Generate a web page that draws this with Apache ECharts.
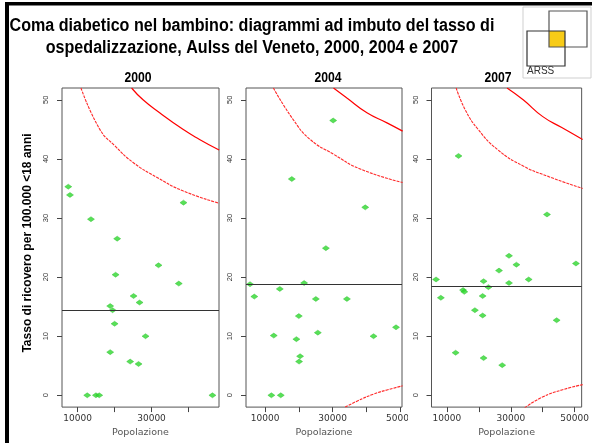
<!DOCTYPE html>
<html>
<head>
<meta charset="utf-8">
<script src="https://cdn.jsdelivr.net/npm/echarts@6/dist/echarts.min.js"></script>
<style>
html,body{margin:0;padding:0;background:#fff;}
#chart{width:592px;height:443px;}
</style>
</head>
<body>
<div id="chart"></div>
<script>
// ---- text ----
const titleLines = [
  'Coma diabetico nel bambino: diagrammi ad imbuto del tasso di',
  'ospedalizzazione, Aulss del Veneto, 2000, 2004 e 2007'
];
const panelTitles = ['2000', '2004', '2007'];
const yTitle = 'Tasso di ricovero per 100.000 <18 anni';
const xName = 'Popolazione';
const logoText = 'ARSS';

// ---- data: population (x) and rate per 100.000 (y) of each Aulss ----
const pop2000 = [7460, 7920, 13600, 20700, 38650, 31890, 20270, 37380, 25140, 26760, 18810, 19460, 20000, 28380, 18810, 24220, 26490, 12590, 14950, 15840, 46490];
const rate2000 = [35.3, 33.9, 29.8, 26.5, 32.6, 22.0, 20.4, 18.9, 16.8, 15.7, 15.1, 14.4, 12.1, 10.0, 7.3, 5.7, 5.3, 0, 0, 0, 0];

const pop2004 = [30150, 17910, 39630, 27990, 5560, 21560, 6830, 14360, 25020, 34210, 19990, 48730, 12580, 25610, 19270, 42090, 20370, 20070, 11870, 14650];
const rate2004 = [46.5, 36.6, 31.8, 24.9, 18.8, 19.0, 16.7, 18.0, 16.3, 16.3, 13.4, 11.5, 10.1, 10.6, 9.5, 10.0, 6.6, 5.7, 0, 0];

const pop2007 = [13630, 41330, 29430, 31750, 50390, 26310, 6590, 35590, 21480, 29430, 22990, 15050, 15440, 8100, 21180, 18760, 21180, 44350, 12720, 21480, 27310];
const rate2007 = [40.5, 30.6, 23.6, 22.1, 22.3, 21.1, 19.6, 19.6, 19.3, 19.0, 18.3, 17.8, 17.5, 16.5, 16.8, 14.4, 13.5, 12.7, 7.2, 6.3, 5.1];

// regional mean rate (horizontal line)
const meanRate = [14.4, 18.8, 18.45];

// funnel limits: [population, rate]
const inner2000 = [[10900, 52], [16000, 45.0], [20100, 42.2], [25000, 39.4], [31400, 36.9], [38500, 34.6], [48300, 32.5]];
const outer2000 = [[24600, 52], [27700, 50], [32200, 47.8], [38500, 45], [43000, 43.3], [48300, 41.5]];
const lower2000 = [];

const inner2004 = [[12460, 52], [18390, 46.6], [23330, 43.3], [30240, 40.8], [38150, 38.3], [50680, 36.0]];
const outer2004 = [[30240, 52], [34210, 50.3], [40130, 47.8], [46060, 46.1], [50680, 44.7]];
const lower2004 = [[33700, -2], [37170, -1], [42100, 0.2], [46060, 0.9], [50680, 1.6]];

const inner2007 = [[12900, 52], [15740, 48.3], [19760, 45.0], [25800, 41.6], [33870, 38.8], [41900, 37.0], [52480, 35.0]];
const outer2007 = [[28820, 52], [33870, 50], [39910, 47.2], [45950, 45.3], [52480, 43.3]];
const lower2007 = [[34350, -2.1], [39910, -0.3], [45950, 0.9], [52480, 1.8]];

// ---- axes ----
const xMin = [5760, 4370, 5170];
const xMax = [48270, 50500, 52180];
const yMin = -2, yMax = 52;
const yTicks = [0, 10, 20, 30, 40, 50];
const xTicks = [
  [10000, 20000, 30000, 40000],
  [10000, 20000, 30000, 40000, 50000],
  [10000, 20000, 30000, 40000, 50000]
];
const xTickLabels = [
  [10000, 30000],
  [10000, 30000, 50000],
  [10000, 30000, 50000]
];

const pops = [pop2000, pop2004, pop2007];
const rates = [rate2000, rate2004, rate2007];
const inners = [inner2000, inner2004, inner2007];
const outers = [outer2000, outer2004, outer2007];
const lowers = [lower2000, lower2004, lower2007];

// ---- layout ----
const grids = [
  {left: 62, top: 88, width: 157, height: 322},
  {left: 246, top: 88, width: 156, height: 322},
  {left: 431.5, top: 88, width: 156, height: 322}
];
const panelTitleX = [138, 328, 498];

const chart = echarts.init(document.getElementById('chart'), null, {renderer: 'canvas'});

const gridOpts = grids.map(g => Object.assign({
  show: true, borderColor: '#555', borderWidth: 1, backgroundColor: '#fff', containLabel: false
}, g));

const plain = v => String(Math.round(v));

const xAxes = [0, 1, 2].map(i => ({
  gridIndex: i, type: 'value', min: xMin[i], max: xMax[i],
  axisLine: {show: false, onZero: false},
  axisTick: {show: true, inside: false, length: 5, customValues: xTicks[i], lineStyle: {color: '#444', width: 1}},
  axisLabel: {customValues: xTickLabels[i], formatter: plain, fontFamily: 'DejaVu Sans', fontSize: 9, color: '#333', margin: 7, hideOverlap: false},
  splitLine: {show: false},
  name: xName, nameLocation: 'middle', nameGap: 19,
  nameTextStyle: {fontFamily: 'DejaVu Sans', fontSize: 9.5, color: '#555'}
}));

const yAxes = [0, 1, 2].map(i => ({
  gridIndex: i, type: 'value', min: yMin, max: yMax,
  axisLine: {show: false, onZero: false},
  axisTick: {show: true, inside: false, length: 5, customValues: yTicks, lineStyle: {color: '#444', width: 1}},
  axisLabel: {customValues: yTicks, formatter: plain, rotate: 90, fontFamily: 'Liberation Sans', fontSize: 7.5, color: '#333', margin: 12, hideOverlap: false},
  splitLine: {show: false}
}));

const series = [];
[0, 1, 2].forEach(i => {
  series.push({
    type: 'line', xAxisIndex: i, yAxisIndex: i, data: outers[i], smooth: true, showSymbol: false, symbol: 'none',
    clip: true, lineStyle: {color: '#ff0000', width: 1.2, type: 'solid'}, z: 2
  });
  series.push({
    type: 'line', xAxisIndex: i, yAxisIndex: i, data: inners[i], smooth: true, showSymbol: false, symbol: 'none',
    clip: true, lineStyle: {color: '#ff2a2a', width: 1.1, type: [3, 1]}, z: 2
  });
  if (lowers[i].length) {
    series.push({
      type: 'line', xAxisIndex: i, yAxisIndex: i, data: lowers[i], smooth: true, showSymbol: false, symbol: 'none',
      clip: true, lineStyle: {color: '#ff2a2a', width: 1.1, type: [3, 1]}, z: 2
    });
  }
  series.push({
    type: 'scatter', xAxisIndex: i, yAxisIndex: i,
    data: pops[i].map((p, k) => [p, rates[i][k]]),
    symbol: 'diamond', symbolSize: [7, 5],
    itemStyle: {color: '#2ed82e', borderColor: '#1fb81f', borderWidth: 0.5},
    z: 4,
    markLine: {
      silent: true, symbol: 'none', animation: false,
      label: {show: false},
      lineStyle: {color: '#333', width: 1, type: 'solid'},
      data: [{yAxis: meanRate[i]}]
    }
  });
});

const graphics = [
  // outer frame (top and left)
  {type: 'rect', shape: {x: 5, y: 2, width: 587, height: 3.5}, style: {fill: '#000'}, z: 100},
  {type: 'rect', shape: {x: 5, y: 2, width: 4, height: 441}, style: {fill: '#000'}, z: 100},
  // title
  {type: 'text', x: 252, y: 26.5, scaleX: 0.92, z: 100,
    style: {text: titleLines[0], font: 'bold 17.5px "Liberation Sans", Arial, sans-serif', fill: '#000', textAlign: 'center', textVerticalAlign: 'middle'}},
  {type: 'text', x: 252, y: 48.5, scaleX: 0.92, z: 100,
    style: {text: titleLines[1], font: 'bold 17.5px "Liberation Sans", Arial, sans-serif', fill: '#000', textAlign: 'center', textVerticalAlign: 'middle'}},
  // y axis title
  {type: 'text', x: 27, y: 243, rotation: Math.PI / 2, scaleX: 0.89, z: 100,
    style: {text: yTitle, font: 'bold 13.5px "Liberation Sans", Arial, sans-serif', fill: '#000', textAlign: 'center', textVerticalAlign: 'middle'}},
  // cover of the cut label
  {type: 'rect', shape: {x: 408, y: 412, width: 20, height: 16}, style: {fill: '#fff'}, z: 90},
  // logo
  {type: 'rect', shape: {x: 523, y: 7, width: 68, height: 71}, style: {fill: '#fff', stroke: '#cfcfcf', lineWidth: 1}, z: 100},
  {type: 'rect', shape: {x: 549, y: 31, width: 16, height: 16}, style: {fill: '#f7cb17'}, z: 101},
  {type: 'rect', shape: {x: 549, y: 11, width: 38, height: 36}, style: {fill: 'none', stroke: '#555', lineWidth: 1.2}, z: 102},
  {type: 'rect', shape: {x: 527, y: 31, width: 38, height: 35}, style: {fill: 'none', stroke: '#333', lineWidth: 1.2}, z: 103},
  {type: 'text', x: 527, y: 71.5, z: 104,
    style: {text: logoText, font: '10px "Liberation Sans", Arial, sans-serif', fill: '#333', textAlign: 'left', textVerticalAlign: 'middle'}}
];
panelTitles.forEach((t, i) => {
  graphics.push({type: 'text', x: panelTitleX[i], y: 78, scaleX: 0.87, z: 100,
    style: {text: t, font: 'bold 14px "Liberation Sans", Arial, sans-serif', fill: '#000', textAlign: 'center', textVerticalAlign: 'middle'}});
});

chart.setOption({
  animation: false,
  backgroundColor: '#fff',
  grid: gridOpts,
  xAxis: xAxes,
  yAxis: yAxes,
  series: series,
  graphic: graphics
});
</script>
</body>
</html>
